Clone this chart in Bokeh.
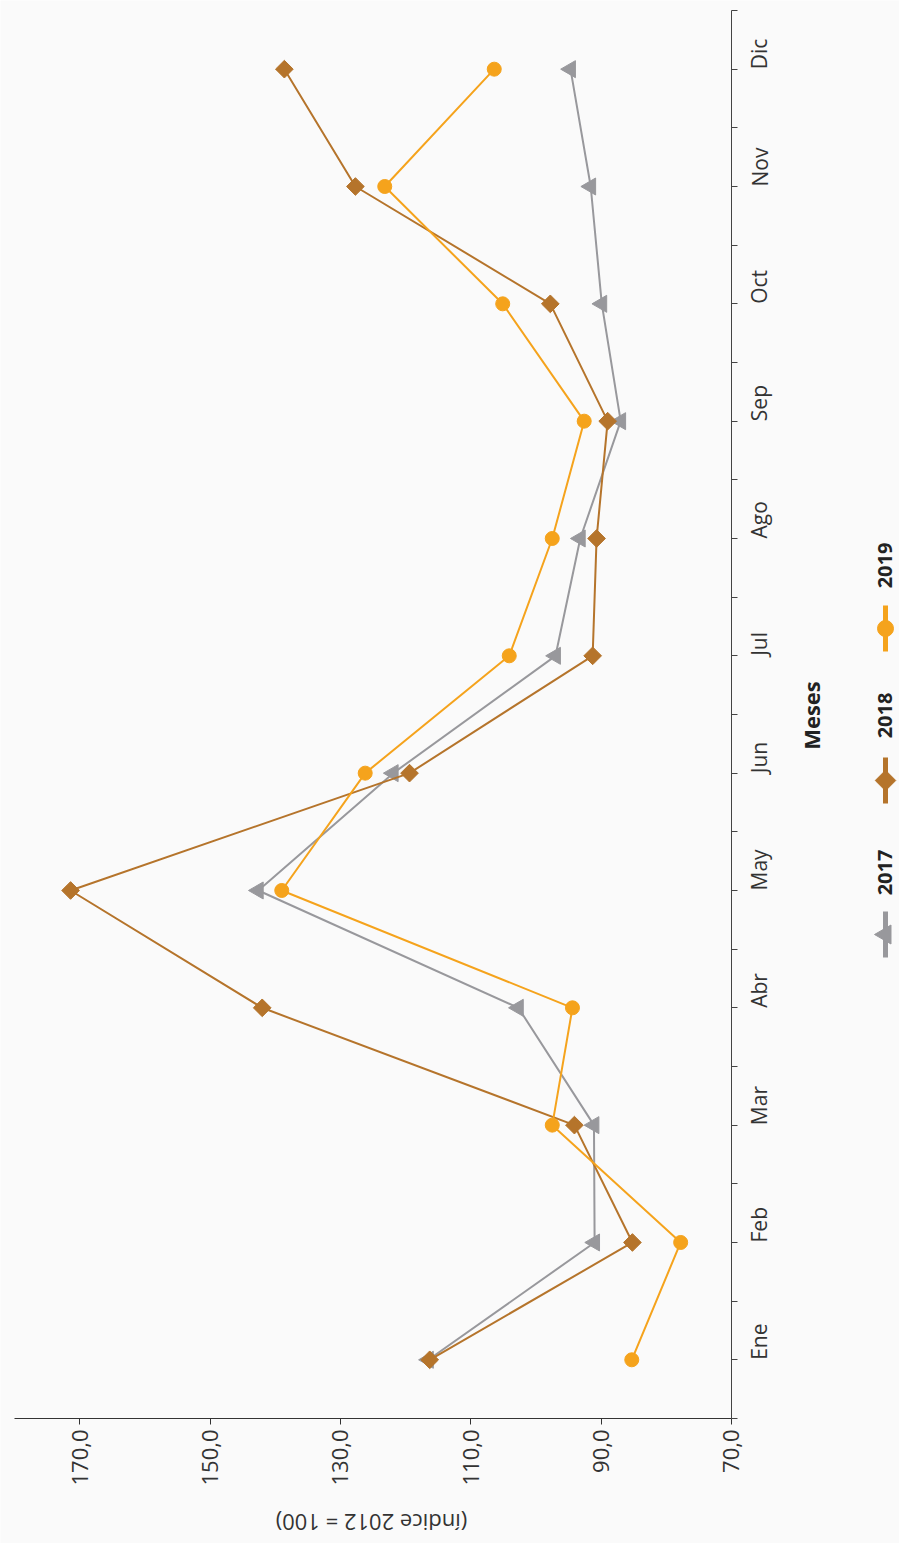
import math
from bokeh.plotting import figure
from bokeh.models import Range1d, LinearAxis, FixedTicker
from bokeh.core.properties import value
from bokeh.embed import file_html
from bokeh.resources import INLINE

months = ["Ene", "Feb", "Mar", "Abr", "May", "Jun", "Jul", "Ago", "Sep", "Oct", "Nov", "Dic"]
serie_2017 = [116.5, 91.0, 91.1, 102.7, 142.6, 121.9, 97.0, 93.2, 87.0, 89.9, 91.6, 94.7]
serie_2018 = [116.3, 85.2, 94.1, 142.0, 171.4, 119.4, 91.3, 90.7, 89.0, 97.8, 127.7, 138.6]
serie_2019 = [85.3, 77.8, 97.5, 94.4, 139.0, 126.2, 104.1, 97.5, 92.6, 105.1, 123.2, 106.4]
series_names = ["2017", "2018", "2019"]
value_ticks = [70, 90, 110, 130, 150, 170]
value_tick_labels = ["70,0", "90,0", "110,0", "130,0", "150,0", "170,0"]

colors = ["#98989c", "#b5742b", "#f5a31c"]
FONT = "Open Sans"
BG = "#fafafa"

# Chart is drawn rotated: values along x (reversed), months along y.
W, H = 899, 1543
# screen calibration (page pixels): value 70 at x=731, 6.518 px per unit;
# month index 0 at y=1359.3, 117.33 px per month; canvas starts at page (0, 0)
OX, OY = 0, 0
PX_V, X70 = 6.518, 731.0
PX_M, Y0 = 117.33, 1359.3
def vx(px):
    return 70 + (X70 - px) / PX_V
def my(py):
    return (Y0 - py) / PX_M

p = figure(width=W, height=H, output_backend="svg", toolbar_location=None,
           x_range=Range1d(vx(OX), vx(OX + W)), y_range=Range1d(my(OY + H), my(OY)),
           x_axis_location=None, y_axis_location=None, min_border=0)
p.background_fill_color = BG
p.border_fill_color = BG
p.outline_line_color = None
p.xgrid.visible = False
p.ygrid.visible = False

# value axis (appears at the bottom)
xa = LinearAxis(fixed_location=-0.5, bounds=(70, 180))
xa.ticker = FixedTicker(ticks=value_ticks, minor_ticks=[])
xa.major_label_overrides = {t: l for t, l in zip(value_ticks, value_tick_labels)}
xa.major_label_orientation = math.pi / 2
xa.major_tick_out = 6
xa.major_tick_in = 0
xa.minor_tick_out = 0
xa.major_label_standoff = 5
xa.axis_line_color = "#333333"
xa.major_tick_line_color = "#333333"
xa.major_label_text_font = FONT
xa.major_label_text_font_size = "22px"
xa.major_label_text_color = "#333333"
p.add_layout(xa, "below")

# month axis (appears at the right)
ya = LinearAxis(fixed_location=70, bounds=(-0.5, 11.5))
ya.ticker = FixedTicker(ticks=list(range(len(months))),
                        minor_ticks=[i - 0.5 for i in range(len(months) + 1)])
ya.major_label_overrides = {i: m for i, m in enumerate(months)}
ya.major_label_orientation = math.pi / 2
ya.major_tick_out = 6
ya.major_tick_in = 0
ya.minor_tick_out = 6
ya.minor_tick_in = 0
ya.major_label_standoff = 22
ya.axis_line_color = "#444444"
ya.major_tick_line_color = "#444444"
ya.minor_tick_line_color = "#444444"
ya.major_label_text_font = FONT
ya.major_label_text_font_size = "21px"
ya.major_label_text_color = "#333333"
p.add_layout(ya, "right")

idx = list(range(len(months)))
all_series = [serie_2017, serie_2018, serie_2019]
markers = [("triangle", 17, math.pi / 2), ("square", 12.5, math.pi / 4), ("circle", 14, 0)]

for vals, col, (mk, sz, ang) in zip(all_series, colors, markers):
    p.line(vals, idx, line_color=col, line_width=2)
    p.scatter(vals, idx, marker=mk, size=sz, angle=ang, fill_color=col, line_color=col)

# axis titles
p.text([vx(810)], [my(715)], text=["Meses"], angle=math.pi / 2, text_align="center",
       text_baseline="middle", text_font=value(FONT), text_font_size="22px",
       text_font_style="bold", text_color="#222222")
p.text([vx(371)], [my(1522)], text=["(índice 2012 = 100)"], angle=math.pi,
       text_align="center", text_baseline="middle", text_font=value(FONT),
       text_font_size="22px", text_color="#333333")

# legend (rotated)
leg_x = vx(885)
leg_centers = [934, 780, 628]
leg_text_centers = [872, 715, 565]
for name, col, (mk, sz, ang), yc, yt in zip(series_names, colors, markers, leg_centers, leg_text_centers):
    p.segment([leg_x], [my(yc + 23)], [leg_x], [my(yc - 23)], line_color=col, line_width=5)
    p.scatter([leg_x], [my(yc)], marker=mk, size=sz + 2, angle=ang, fill_color=col, line_color=col)
    p.text([vx(884)], [my(yt)], text=[name], angle=math.pi / 2, text_align="center",
           text_baseline="middle", text_font=value(FONT), text_font_size="20px",
           text_font_style="bold", text_color="#222222")

html = file_html(p, INLINE)
html = html.replace("<body>", '<body style="background-color:#fafafa;">', 1)
open("out.html", "w").write(html)
